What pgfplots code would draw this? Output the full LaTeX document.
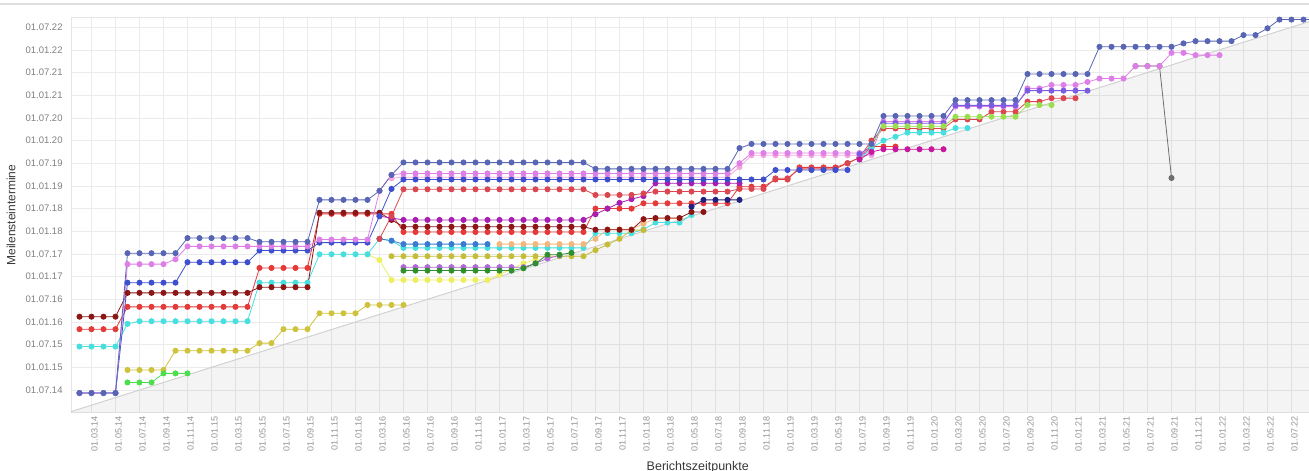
\documentclass[border=0pt]{standalone}
\usepackage{fontspec}
\setmainfont{Liberation Sans}
\usepackage{pgfplots}
\pgfplotsset{compat=1.18}

\definecolor{cSlate}{HTML}{5865B5}
\definecolor{cViolet}{HTML}{DD7FE6}
\definecolor{cPink}{HTML}{F2A6DD}
\definecolor{cBlue}{HTML}{3D4FCF}
\definecolor{cPurpleBlue}{HTML}{7B5CE0}
\definecolor{cMaroon}{HTML}{8C1515}
\definecolor{cRed}{HTML}{E43A3A}
\definecolor{cCrimson}{HTML}{DC4650}
\definecolor{cMagenta}{HTML}{A61FB0}
\definecolor{cMagenta2}{HTML}{C8169E}
\definecolor{cCyan}{HTML}{46DEDE}
\definecolor{cSteel}{HTML}{3A7BD0}
\definecolor{cTan}{HTML}{F2B77E}
\definecolor{cKhaki}{HTML}{CFC23C}
\definecolor{cLYellow}{HTML}{EEEE62}
\definecolor{cOlive}{HTML}{C5BD3A}
\definecolor{cOrchid}{HTML}{B169D6}
\definecolor{cDGreen}{HTML}{2F8F2F}
\definecolor{cGreen}{HTML}{4DDD4D}
\definecolor{cLGreen}{HTML}{9ADE50}
\definecolor{cNavy}{HTML}{20207E}
\definecolor{cGrey}{HTML}{6E6E6E}

\pgfplotsset{s/.style={mark=*, mark size=2.6pt, line width=0.8pt}}

\begin{document}
\begin{tikzpicture}
\draw[black!12, line width=1.2pt] (0pt,467pt) -- (1309pt,467pt);
\begin{axis}[
  at={(71.1pt,58.3pt)}, anchor=south west,
  scale only axis, width=1256.4pt, height=395pt,
  xmin=0.3, xmax=105, ymin=0, ymax=104.5,
  xtick={2,4,...,104},
  xticklabels={01.03.14,01.05.14,01.07.14,01.09.14,01.11.14,01.01.15,01.03.15,01.05.15,01.07.15,01.09.15,01.11.15,01.01.16,01.03.16,01.05.16,01.07.16,01.09.16,01.11.16,01.01.17,01.03.17,01.05.17,01.07.17,01.09.17,01.11.17,01.01.18,01.03.18,01.05.18,01.07.18,01.09.18,01.11.18,01.01.19,01.03.19,01.05.19,01.07.19,01.09.19,01.11.19,01.01.20,01.03.20,01.05.20,01.07.20,01.09.20,01.11.20,01.01.21,01.03.21,01.05.21,01.07.21,01.09.21,01.11.21,01.01.22,01.03.22,01.05.22,01.07.22,01.09.22},
  ytick={6,12,...,102},
  yticklabels={01.07.14,01.01.15,01.07.15,01.01.16,01.07.16,01.01.17,01.07.17,01.01.18,01.07.18,01.01.19,01.07.19,01.01.20,01.07.20,01.01.21,01.07.21,01.01.22,01.07.22},
  major tick length=0pt,
  grid=major, major grid style={draw=black!8, line width=0.6pt},
  axis line style={draw=black!10},
  xticklabel style={rotate=90, anchor=east, font=\fontsize{9}{10}\selectfont, text=black!42, yshift=-3pt},
  yticklabel style={font=\fontsize{9.5}{11}\selectfont, text=black!50, xshift=-5pt},
  xlabel={Berichtszeitpunkte}, ylabel={Meilensteintermine},
  xlabel style={at={(axis description cs:0.4988,0)}, yshift=-55pt, anchor=center, font=\fontsize{12.5}{14}\selectfont, text=black!78},
  ylabel style={at={(axis description cs:-0.0478,0.5)}, anchor=center, font=\fontsize{12}{14}\selectfont, text=black!78},
]
% shaded area below the diagonal (milestone date = report date)
\addplot[draw=none, fill=black, fill opacity=0.045] coordinates {(0,0) (106,106) (106,0)} -- cycle;
\addplot[black!18, line width=1pt] coordinates {(0,0) (106,106)};

% khaki
\addplot[s, cKhaki] coordinates {(5,11.3)(6,11.3)(7,11.3)(8,11.3)(9,16.4)(10,16.4)(11,16.4)(12,16.4)(13,16.4)(14,16.4)(15,16.4)(16,18.4)(17,18.4)(18,22.1)(19,22.1)(20,22.1)(21,26.3)(22,26.3)(23,26.3)(24,26.3)(25,28.5)(26,28.5)(27,28.5)(28,28.5)};
% light yellow
\addplot[s, cLYellow] coordinates {(25,41.9)(26,40.4)(27,35.1)(28,35.1)(29,35.1)(30,35.1)(31,35.1)(32,35.1)(33,35.1)(34,35.1)(35,35.1)(36,36.5)(37,38)(38,39.5)(39,40.5)};
% green
\addplot[s, cGreen] coordinates {(5,8)(6,8)(7,8)(8,10.4)(9,10.4)(10,10.4)};
% cyan
\addplot[s, cCyan] coordinates {(1,17.5)(2,17.5)(3,17.5)(4,17.5)(5,23.5)(6,24.2)(7,24.2)(8,24.2)(9,24.2)(10,24.2)(11,24.2)(12,24.2)(13,24.2)(14,24.2)(15,24.2)(16,34.4)(17,34.4)(18,34.4)(19,34.4)(20,34.4)(21,41.9)(22,41.9)(23,41.9)(24,41.9)(25,41.9)(26,46)(27,45.5)(28,43.6)(29,43.6)(30,43.6)(31,43.6)(32,43.6)(33,43.6)(34,43.6)(35,43.6)(36,43.6)(37,43.6)(38,43.6)(39,43.6)(40,43.6)(41,43.6)(42,43.6)(43,43.6)(44,47.5)(45,47.5)(46,47.5)(47,47.5)(48,48.5)(49,50.3)(50,50.3)(51,50.3)(52,52.3)};
% steel blue
\addplot[s, cSteel] coordinates {(26,46)(27,45.5)(28,44.6)(29,44.6)(30,44.6)(31,44.6)(32,44.6)(33,44.6)(34,44.6)(35,44.6)};
% tan
\addplot[s, cTan] coordinates {(36,44.6)(37,44.6)(38,44.6)(39,44.6)(40,44.6)(41,44.6)(42,44.6)(43,44.6)(44,46)(45,48.5)(46,48.5)(47,48.5)(48,50)(49,51.4)(50,51.4)(51,51.4)};
% olive yellow
\addplot[s, cOlive] coordinates {(27,41.4)(28,41.4)(29,41.4)(30,41.4)(31,41.4)(32,41.4)(33,41.4)(34,41.4)(35,41.4)(36,41.4)(37,41.4)(38,41.4)(39,41.4)(40,41.4)(41,41.4)(42,41.4)(43,41.4)(44,43)(45,44.5)(46,46)(47,48.3)(48,48.3)};
% orchid
\addplot[s, cOrchid] coordinates {(28,38.5)(29,38.5)(30,38.5)(31,38.5)(32,38.5)(33,38.5)(34,38.5)(35,38.5)(36,38.5)(37,38.5)(38,38.5)(39,39.5)(40,40.8)(41,41.6)};
% dark green
\addplot[s, cDGreen] coordinates {(28,37.6)(29,37.6)(30,37.6)(31,37.6)(32,37.6)(33,37.6)(34,37.6)(35,37.6)(36,37.6)(37,37.6)(38,38.2)(39,39.5)(40,41.8)(41,41.8)(42,42.3)};
% red
\addplot[s, cRed] coordinates {(1,22.1)(2,22.1)(3,22.1)(4,22.1)(5,28)(6,28)(7,28)(8,28)(9,28)(10,28)(11,28)(12,28)(13,28)(14,28)(15,28)(16,38.3)(17,38.3)(18,38.3)(19,38.3)(20,38.3)(21,52.6)(22,52.6)(23,52.6)(24,52.6)(25,52.6)(26,52.6)(27,52.6)(28,47.8)(29,47.8)(30,47.8)(31,47.8)(32,47.8)(33,47.8)(34,47.8)(35,47.8)(36,47.8)(37,47.8)(38,47.8)(39,47.8)(40,47.8)(41,47.8)(42,47.8)(43,47.8)(44,54)(45,54)(46,54)(47,54)(48,55.4)(49,55.4)(50,55.4)(51,55.4)(52,55.4)(53,55.4)(54,55.4)(55,55.4)(56,59.8)(57,59.8)(58,59.8)(59,61.7)(60,61.7)(61,64.9)(62,64.9)(63,64.9)(64,64.9)(65,66)(66,67.5)(67,70.4)(68,70.4)(69,70.4)};
% maroon
\addplot[s, cMaroon] coordinates {(1,25.4)(2,25.4)(3,25.4)(4,25.4)(5,31.7)(6,31.7)(7,31.7)(8,31.7)(9,31.7)(10,31.7)(11,31.7)(12,31.7)(13,31.7)(14,31.7)(15,31.7)(16,33.2)(17,33.2)(18,33.2)(19,33.2)(20,33.2)(21,52.9)(22,52.9)(23,52.9)(24,52.9)(25,52.9)(26,52.9)(27,51)(28,49.2)(29,49.2)(30,49.2)(31,49.2)(32,49.2)(33,49.2)(34,49.2)(35,49.2)(36,49.2)(37,49.2)(38,49.2)(39,49.2)(40,49.2)(41,49.2)(42,49.2)(43,49.2)(44,48.4)(45,48.4)(46,48.4)(47,48.4)(48,51.2)(49,51.5)(50,51.5)(51,51.5)(52,53.1)(53,53.1)};
% magenta
\addplot[s, cMagenta] coordinates {(26,52)(27,51.5)(28,51)(29,51)(30,51)(31,51)(32,51)(33,51)(34,51)(35,51)(36,51)(37,51)(38,51)(39,51)(40,51)(41,51)(42,51)(43,51)(44,52.5)(45,54)(46,55.5)(47,56.5)(48,57.3)(49,60.7)(50,60.7)(51,60.7)(52,60.7)(53,60.7)(54,60.7)(55,60.7)(56,60.7)};
% navy
\addplot[s, cNavy] coordinates {(52,54.5)(53,56.3)(54,56.3)(55,56.3)(56,56.3)};
% crimson / salmon
\addplot[s, cCrimson] coordinates {(26,46)(27,52)(28,59.1)(29,59.1)(30,59.1)(31,59.1)(32,59.1)(33,59.1)(34,59.1)(35,59.1)(36,59.1)(37,59.1)(38,59.1)(39,59.1)(40,59.1)(41,59.1)(42,59.1)(43,59.1)(44,57.6)(45,57.6)(46,57.6)(47,57.6)(48,58)(49,58.5)(50,58.5)(51,58.5)(52,58.5)(53,58.5)(54,58.5)(55,58.5)(56,59.2)(57,59.2)(58,59.2)(59,62)(60,62)(61,64.5)(62,64.5)(63,64.5)(64,64.5)(65,66)(66,67.5)(67,72)(68,75.2)(69,75.2)(70,75.2)(71,75.2)(72,75.2)(73,75.2)(74,77.6)(75,77.6)(76,77.6)(77,79.6)(78,79.6)(79,79.6)(80,82.3)(81,82.3)(82,83.2)(83,83.2)(84,83.2)};
% light pink
\addplot[s, cPink] coordinates {(27,62)(28,62.3)(29,62.3)(30,62.3)(31,62.3)(32,62.3)(33,62.3)(34,62.3)(35,62.3)(36,62.3)(37,62.3)(38,62.3)(39,62.3)(40,62.3)(41,62.3)(42,62.3)(43,62.3)(44,62.3)(45,62.3)(46,62.3)(47,62.3)(48,62.3)(49,62.3)(50,62.3)(51,62.3)(52,62.3)(53,62.3)(54,62.3)(55,62.3)(56,65)(57,68.1)(58,68.1)(59,68.1)(60,68.1)(61,68.1)(62,68.1)(63,68.1)(64,68.1)(65,68.1)(66,68.1)(67,68.1)};
% blue
\addplot[s, cBlue] coordinates {(1,5.2)(2,5.2)(3,5.2)(4,5.2)(5,34.4)(6,34.4)(7,34.4)(8,34.4)(9,34.4)(10,39.8)(11,39.8)(12,39.8)(13,39.8)(14,39.8)(15,39.8)(16,42.9)(17,42.9)(18,42.9)(19,42.9)(20,42.9)(21,45)(22,45)(23,45)(24,45)(25,45)(26,52)(27,59.2)(28,61.7)(29,61.7)(30,61.7)(31,61.7)(32,61.7)(33,61.7)(34,61.7)(35,61.7)(36,61.7)(37,61.7)(38,61.7)(39,61.7)(40,61.7)(41,61.7)(42,61.7)(43,61.7)(44,61.7)(45,61.7)(46,61.7)(47,61.7)(48,61.7)(49,61.7)(50,61.7)(51,61.7)(52,61.7)(53,61.7)(54,61.7)(55,61.7)(56,61.7)(57,61.7)(58,61.7)(59,64.2)(60,64.2)(61,64.2)(62,64.2)(63,64.2)(64,64.2)(65,64.2)};
% grey (drawn below the violet series)
\addplot[s, cGrey] coordinates {(89,91.7)(90,91.7)(91,91.7)(92,62.1)};
% violet
\addplot[s, cViolet] coordinates {(1,5.2)(2,5.2)(3,5.2)(4,5.2)(5,39.3)(6,39.3)(7,39.3)(8,39.3)(9,40.6)(10,44)(11,44)(12,44)(13,44)(14,44)(15,44)(16,44)(17,44)(18,44)(19,44)(20,44)(21,45.8)(22,45.8)(23,45.8)(24,45.8)(25,45.8)(26,58.7)(27,62.9)(28,63.3)(29,63.3)(30,63.3)(31,63.3)(32,63.3)(33,63.3)(34,63.3)(35,63.3)(36,63.3)(37,63.3)(38,63.3)(39,63.3)(40,63.3)(41,63.3)(42,63.3)(43,63.3)(44,63.3)(45,63.3)(46,63.3)(47,63.3)(48,63.3)(49,63.3)(50,63.3)(51,63.3)(52,63.3)(53,63.3)(54,63.3)(55,63.3)(56,66)(57,68.7)(58,68.7)(59,68.7)(60,68.7)(61,68.7)(62,68.7)(63,68.7)(64,68.7)(65,68.7)(66,68.7)(67,68.7)(68,77)(69,77)(70,77)(71,77)(72,77)(73,77)(74,81)(75,81)(76,81)(77,81)(78,81)(79,81)(80,85.8)(81,85.8)(82,86.7)(83,86.7)(84,86.7)(85,87.5)(86,88.4)(87,88.4)(88,88.4)(89,91.7)(90,91.7)(91,91.7)(92,95.2)(93,95.2)(94,94.6)(95,94.6)(96,94.6)};
% purple blue
\addplot[s, cPurpleBlue] coordinates {(66,68.4)(67,70.5)(68,76.6)(69,76.6)(70,76.6)(71,76.6)(72,76.6)(73,76.6)(74,81.3)(75,81.3)(76,81.3)(77,81.3)(78,81.3)(79,81.3)(80,85.2)(81,85.2)(82,85.2)(83,85.2)(84,85.2)(85,85.2)};
% late cyan
\addplot[s, cCyan] coordinates {(66,67)(67,70)(68,72)(69,73)(70,74.1)(71,74.1)(72,74.1)(73,74.1)(74,75.3)(75,75.3)};
% light green
\addplot[s, cLGreen] coordinates {(67,71)(68,75.8)(69,75.8)(70,75.8)(71,75.8)(72,75.8)(73,75.8)(74,78.3)(75,78.3)(76,78.3)(77,78.3)(78,78.3)(79,78.3)(80,81.4)(81,81.4)(82,81.4)};
% late magenta
\addplot[s, cMagenta2] coordinates {(66,67)(67,69)(68,69.7)(69,69.7)(70,69.7)(71,69.7)(72,69.7)(73,69.7)};
% slate (top)
\addplot[s, cSlate] coordinates {(1,5.2)(2,5.2)(3,5.2)(4,5.2)(5,42.2)(6,42.2)(7,42.2)(8,42.2)(9,42.2)(10,46.2)(11,46.2)(12,46.2)(13,46.2)(14,46.2)(15,46.2)(16,45.2)(17,45.2)(18,45.2)(19,45.2)(20,45.2)(21,56.3)(22,56.3)(23,56.3)(24,56.3)(25,56.3)(26,58.7)(27,62.9)(28,66.2)(29,66.2)(30,66.2)(31,66.2)(32,66.2)(33,66.2)(34,66.2)(35,66.2)(36,66.2)(37,66.2)(38,66.2)(39,66.2)(40,66.2)(41,66.2)(42,66.2)(43,66.2)(44,64.5)(45,64.5)(46,64.5)(47,64.5)(48,64.5)(49,64.5)(50,64.5)(51,64.5)(52,64.5)(53,64.5)(54,64.5)(55,64.5)(56,70)(57,71.1)(58,71.1)(59,71.1)(60,71.1)(61,71.1)(62,71.1)(63,71.1)(64,71.1)(65,71.1)(66,71.1)(67,71.1)(68,78.5)(69,78.5)(70,78.5)(71,78.5)(72,78.5)(73,78.5)(74,82.7)(75,82.7)(76,82.7)(77,82.7)(78,82.7)(79,82.7)(80,89.6)(81,89.6)(82,89.6)(83,89.6)(84,89.6)(85,89.6)(86,96.8)(87,96.8)(88,96.8)(89,96.8)(90,96.8)(91,96.8)(92,96.8)(93,97.7)(94,98.3)(95,98.3)(96,98.3)(97,98.3)(98,99.9)(99,99.9)(100,101.7)(101,104)(102,104)(103,104)(104,104)};
\end{axis}
\pgfresetboundingbox
\path (0pt,0pt) rectangle (1309pt,471pt);
\end{tikzpicture}
\end{document}
